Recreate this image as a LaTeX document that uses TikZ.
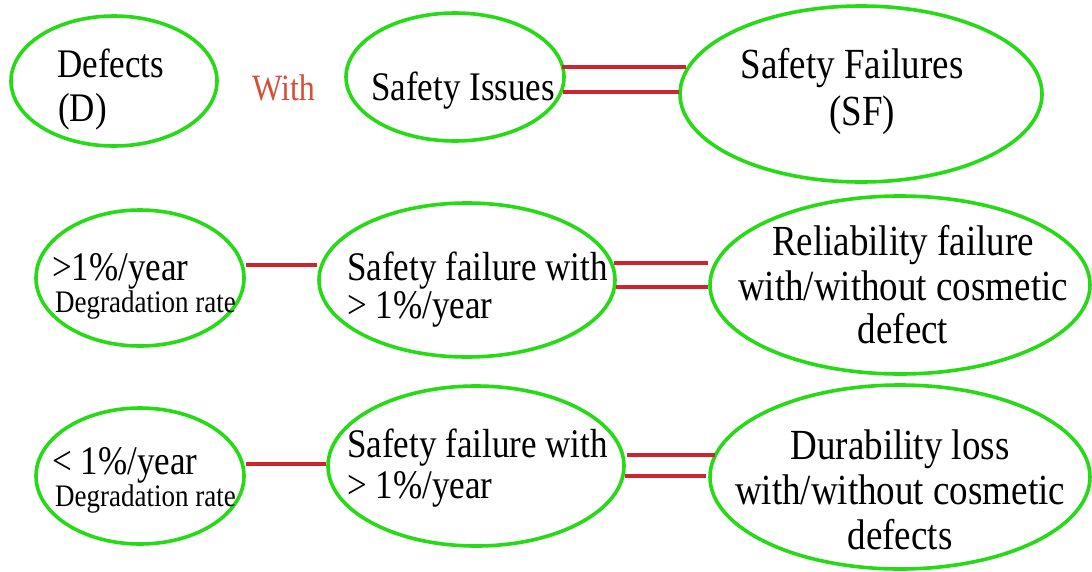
\documentclass[tikz,border=0pt]{standalone}
\usepackage{fontspec}
\setmainfont{Liberation Serif}
\newfontfamily\labelserif{Liberation Serif}
\usetikzlibrary{shapes.geometric,calc}
\definecolor{ovalgreen}{RGB}{38,218,22}
\definecolor{linkred}{RGB}{206,36,46}
\definecolor{withred}{RGB}{214,78,56}
\newcommand\setfs[1]{\labelserif\fontsize{#1}{#1}\selectfont}
\newcommand\tall[1]{\scalebox{1}[1.16]{#1}}
\tikzset{
  oval/.style={ellipse, draw=ovalgreen, line width=3.6pt, inner sep=0pt, fill=white},
  link/.style={draw=linkred, line width=3.2pt},
  txt/.style={inner sep=0pt, text=black},
  big/.style={txt, font=\setfs{35}},
  large/.style={txt, font=\setfs{37}},
  small/.style={txt, font=\setfs{27}},
}
\begin{document}
\begin{tikzpicture}[x=1pt, y=-1pt]
\useasboundingbox[fill=white] (0,0) rectangle (1092,571);

% ---- ovals ----
\node[oval, minimum width=206pt, minimum height=130pt] (def) at (114,81) {};
\node[oval, minimum width=218pt, minimum height=128pt] (si)  at (455,77) {};
\node[oval, minimum width=362pt, minimum height=176pt] (sf)  at (861,94) {};

\node[oval, minimum width=208pt, minimum height=136pt] (hi)  at (140,278) {};
\node[oval, minimum width=296pt, minimum height=154pt] (sw1) at (467,280) {};
\node[oval, minimum width=380pt, minimum height=178pt] (rel) at (900,285) {};

\node[oval, minimum width=208pt, minimum height=136pt] (lo)  at (140,476) {};
\node[oval, minimum width=296pt, minimum height=160pt] (sw2) at (476,466) {};
\node[oval, minimum width=380pt, minimum height=184pt] (dur) at (900,477) {};

% ---- connectors ----
\draw[link] ($(si.east)+(-4,-10)$) -- ($(sf.west)+(8,-27)$);
\draw[link] ($(si.east)+(-3,15)$)  -- ($(sf.west)+(1,-2)$);

\draw[link] ($(hi.east)+(0,-13)$) -- ($(sw1.west)+(0,-15)$);
\draw[link] ($(sw1.east)+(-3,-17)$) -- ($(rel.west)+(0,-22)$);
\draw[link] ($(sw1.east)+(-1,7)$)   -- ($(rel.west)+(0,2)$);

\draw[link] ($(lo.east)+(0,-12)$) -- ($(sw2.west)+(0,-2)$);
\draw[link] ($(sw2.east)+(1,-11)$) -- ($(dur.west)+(7,-22)$);
\draw[link] ($(sw2.east)+(-1,10)$)  -- ($(dur.west)+(-2,-1)$);

% ---- texts ----
\node[big, anchor=base west] (t1a) at (57,77) {\tall{Defects}};
\node[big, anchor=base west] (t1b) at (58,121) {\tall{(D)}};
\node[txt, font=\setfs{32}, text=withred, anchor=base west] (tw) at (252,100) {\tall{With}};
\node[big, anchor=base west] (t2) at (371,100) {\tall{Safety Issues}};
\node[large, anchor=base] (t3a) at (852,78) {\tall{Safety Failures}};
\node[large, anchor=base] (t3b) at (862,125) {\tall{(SF)}};

\node[big, anchor=base west] (t4a) at (52,280) {\tall{>1\%/year}};
\node[small, anchor=base west] (t4b) at (55,312) {\tall{Degradation rate}};
\node[big, anchor=base west] (t5a) at (347,280) {\tall{Safety failure with}};
\node[big, anchor=base west] (t5b) at (347,318) {\tall{> 1\%/year}};
\node[large, anchor=base] (t6a) at (903,255) {\tall{Reliability failure}};
\node[large, anchor=base] (t6b) at (903,300) {\tall{with/without cosmetic}};
\node[large, anchor=base] (t6c) at (903,343) {\tall{defect}};

\node[big, anchor=base west] (t7a) at (52,474) {\tall{< 1\%/year}};
\node[small, anchor=base west] (t7b) at (55,506) {\tall{Degradation rate}};
\node[big, anchor=base west] (t8a) at (347,457) {\tall{Safety failure with}};
\node[big, anchor=base west] (t8b) at (347,498) {\tall{> 1\%/year}};
\node[large, anchor=base] (t9a) at (900,459) {\tall{Durability loss}};
\node[large, anchor=base] (t9b) at (900,504) {\tall{with/without cosmetic}};
\node[large, anchor=base] (t9c) at (900,549) {\tall{defects}};
\end{tikzpicture}
\end{document}
